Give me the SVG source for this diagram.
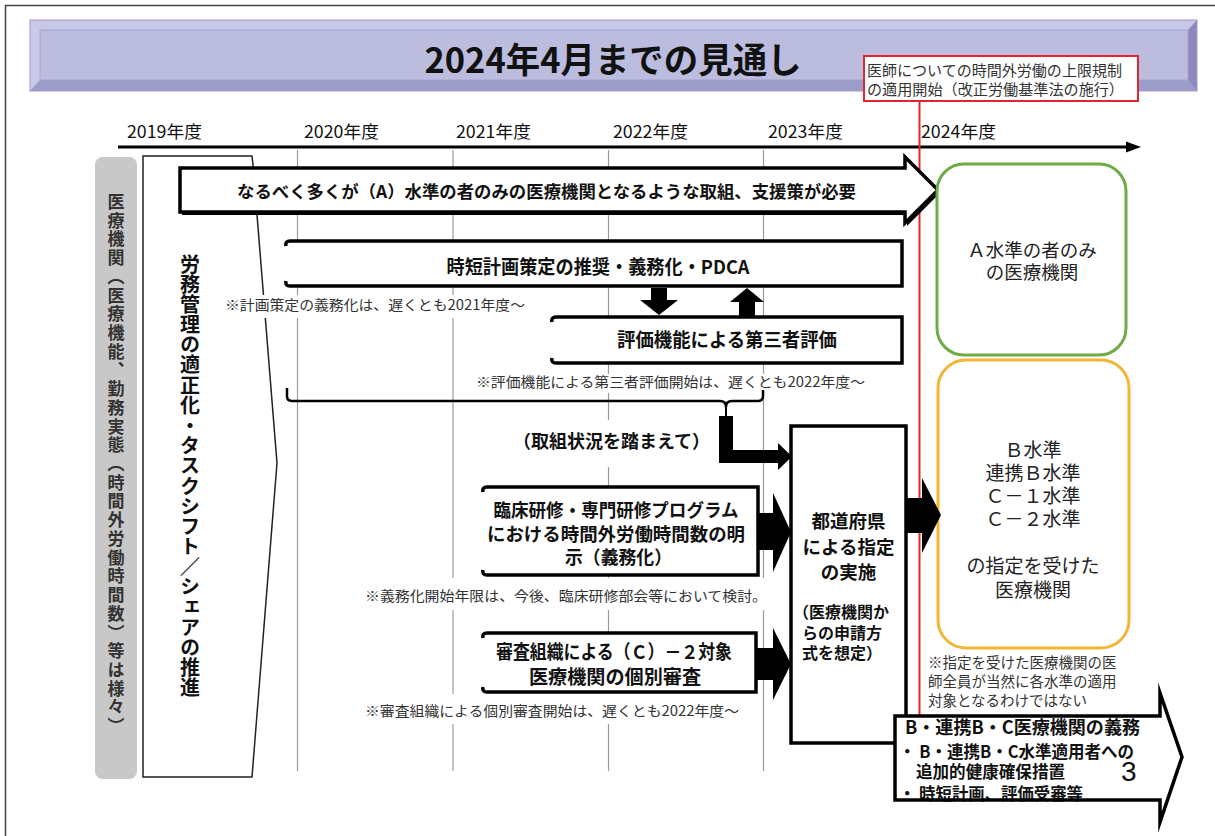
<svg xmlns="http://www.w3.org/2000/svg" width="1215" height="836" viewBox="0 0 1215 836">
<style>
text { font-family: "Noto Sans CJK JP", "Noto Sans CJK SC", sans-serif; fill: #111; }
.b { font-weight: 700; }
.note { font-size: 14px; fill: #333; }
.yr { font-size: 17px; fill: #111; }
.grid { stroke: #9a9a9a; stroke-width: 1.2; fill: none; }
.box { fill: #fff; stroke: #000; stroke-width: 3.5; stroke-linejoin: miter; stroke-miterlimit: 10; }
.open { fill: none; stroke: #000; stroke-width: 3.5; }
.bg { fill: #fff; }
.blk { fill: #000; }
.vt { writing-mode: vertical-rl; }
.red { stroke: #E3262E; }
</style>

<!-- frame -->
<path d="M5.5,836 V5.5 H1215" fill="none" stroke="#444" stroke-width="1.5"/>

<!-- title banner -->
<g id="title">
  <rect x="30" y="20" width="1167" height="71" fill="#BBBCDE"/>
  <polygon points="30,20 1197,20 1188,30 40,30" fill="#C7C7E7"/>
  <polygon points="30,20 40,30 40,80 30,91" fill="#CBCBE9"/>
  <polygon points="30,91 40,80 1188,80 1197,91" fill="#9C9CCB"/>
  <polygon points="1197,20 1188,30 1188,80 1197,91" fill="#8A8ABE"/>
  <rect x="40" y="30" width="1148" height="50" fill="#BBBCDE" stroke="#A3A3D0" stroke-width="1"/>
  <rect x="30" y="20" width="1167" height="71" fill="none" stroke="#A596CC" stroke-width="1"/>
  <text x="613" y="73" class="b" font-size="35" text-anchor="middle" textLength="377" lengthAdjust="spacingAndGlyphs">2024年4月までの見通し</text>
</g>

<!-- time axis -->
<g id="axis">
  <line x1="118" y1="147" x2="1128" y2="147" stroke="#000" stroke-width="3"/>
  <polygon points="1126,141.5 1141,147 1126,152.5" fill="#000"/>
  <text class="yr" x="127" y="138" textLength="75" lengthAdjust="spacingAndGlyphs">2019年度</text>
  <text class="yr" x="304" y="138" textLength="75" lengthAdjust="spacingAndGlyphs">2020年度</text>
  <text class="yr" x="456" y="138" textLength="75" lengthAdjust="spacingAndGlyphs">2021年度</text>
  <text class="yr" x="613" y="138" textLength="75" lengthAdjust="spacingAndGlyphs">2022年度</text>
  <text class="yr" x="768" y="138" textLength="75" lengthAdjust="spacingAndGlyphs">2023年度</text>
  <text class="yr" x="921" y="138" textLength="75" lengthAdjust="spacingAndGlyphs">2024年度</text>
</g>

<!-- grid -->
<g id="grid" class="grid">
  <line x1="297.5" y1="150" x2="297.5" y2="771"/>
  <line x1="453" y1="150" x2="453" y2="771"/>
  <line x1="608.5" y1="150" x2="608.5" y2="771"/>
  <line x1="763.5" y1="150" x2="763.5" y2="771"/>
</g>

<!-- red milestone line -->
<line x1="919.5" y1="101" x2="919.5" y2="716" class="red" stroke-width="2"/>

<!-- left gray bar -->
<g id="institutions">
  <rect x="95" y="157" width="42" height="622" rx="8" fill="#C8C8C8"/>
  <text class="vt b" x="116" y="193" font-size="17" letter-spacing="1.72" style="fill:#333">医療機関（医療機能、勤務実態（時間外労働時間数）等は様々）</text>
</g>

<!-- chevron -->
<g id="labor-management">
  <polygon points="143,156 252,156 253,165 277,463 252,777 143,777" fill="#fff" stroke="#222" stroke-width="1.5"/>
  <text class="vt b" x="190" y="254" font-size="20" letter-spacing="0.18">労務管理の適正化・タスクシフト／シェアの推進</text>
</g>

<!-- notes backgrounds and notes -->
<g id="notes">
  <rect class="bg" x="222" y="295" width="306" height="23"/>
  <text class="note" x="225" y="310" textLength="300" lengthAdjust="spacingAndGlyphs">※計画策定の義務化は、遅くとも2021年度～</text>
  <rect class="bg" x="473" y="374" width="394" height="19"/>
  <text class="note" x="476" y="387" textLength="389" lengthAdjust="spacingAndGlyphs">※評価機能による第三者評価開始は、遅くとも2022年度～</text>
  <rect class="bg" x="362" y="578" width="408" height="32"/>
  <text class="note" x="365" y="601" textLength="402" lengthAdjust="spacingAndGlyphs">※義務化開始年限は、今後、臨床研修部会等において検討。</text>
  <rect class="bg" x="362" y="694" width="380" height="30"/>
  <text class="note" x="365" y="716" textLength="374" lengthAdjust="spacingAndGlyphs">※審査組織による個別審査開始は、遅くとも2022年度～</text>
  <rect class="bg" x="515" y="420" width="194" height="47"/>
  <text class="b" x="611.5" y="447.5" font-size="18" text-anchor="middle">（取組状況を踏まえて）</text>
</g>

<!-- top arrow -->
<g id="a-level-support">
  <polygon points="182,171 907,171 907,160 940,193 907,226 907,215 182,215" fill="#000"/>
  <polygon points="180,168 905,168 905,157 938,190 905,223 905,212 180,212" class="box" stroke-width="2.8"/>
  <text class="b" x="546.5" y="198" font-size="17" text-anchor="middle" textLength="619" lengthAdjust="spacingAndGlyphs">なるべく多くが（A）水準の者のみの医療機関となるような取組、支援策が必要</text>
</g>

<!-- 時短計画 -->
<g id="time-reduction-plan">
  <rect class="bg" x="285" y="241" width="617" height="45"/>
  <path class="open" d="M286,246 Q285,241 290,241 H902 V286 H290 Q285,286 286,281"/>
  <text class="b" x="598" y="273.5" font-size="19" text-anchor="middle" textLength="303" lengthAdjust="spacingAndGlyphs">時短計画策定の推奨・義務化・PDCA</text>
</g>

<!-- 評価 -->
<g id="third-party-evaluation">
  <rect class="bg" x="551" y="317" width="351" height="46"/>
  <path class="open" d="M552,322 Q551,317 556,317 H902 V363 H556 Q551,363 552,358"/>
  <text class="b" x="727" y="346.5" font-size="19" text-anchor="middle" textLength="220" lengthAdjust="spacingAndGlyphs">評価機能による第三者評価</text>
</g>

<!-- 臨床研修 -->
<g id="training-program">
  <rect class="bg" x="482" y="487" width="276" height="88"/>
  <path class="open" d="M483,492 Q482,487 487,487 H758 V575 H487 Q482,575 483,570"/>
  <text class="b" x="616" y="517" font-size="18.5" text-anchor="middle" textLength="245" lengthAdjust="spacingAndGlyphs">臨床研修・専門研修プログラム</text>
  <text class="b" x="616" y="540.5" font-size="18.5" text-anchor="middle" textLength="258" lengthAdjust="spacingAndGlyphs">における時間外労働時間数の明</text>
  <text class="b" x="565" y="564" font-size="18.5" textLength="107" lengthAdjust="spacingAndGlyphs">示（義務化）</text>
</g>

<!-- 審査組織 -->
<g id="review-organization">
  <rect class="bg" x="482" y="633" width="274" height="59"/>
  <path class="open" d="M483,638 Q482,633 487,633 H756 V692 H487 Q482,692 483,687"/>
  <text class="b" x="614" y="658.5" font-size="19" text-anchor="middle" textLength="236" lengthAdjust="spacingAndGlyphs">審査組織による（Ｃ）－２対象</text>
  <text class="b" x="615" y="683.5" font-size="19" text-anchor="middle" textLength="172" lengthAdjust="spacingAndGlyphs">医療機関の個別審査</text>
</g>

<!-- 都道府県 -->
<g id="prefecture-designation">
  <rect class="box" x="791" y="426" width="115" height="317"/>
  <text class="b" x="848.5" y="528" font-size="18.5" text-anchor="middle">都道府県</text>
  <text class="b" x="848.5" y="553.5" font-size="18.5" text-anchor="middle">による指定</text>
  <text class="b" x="848.5" y="578.5" font-size="18.5" text-anchor="middle">の実施</text>
  <text class="b" x="793" y="617.5" font-size="16">（医療機関か</text>
  <text class="b" x="802" y="638.5" font-size="16">らの申請方</text>
  <text class="b" x="802" y="659" font-size="16">式を想定）</text>
</g>

<!-- green box -->
<g id="a-level-institutions">
  <rect x="937" y="164" width="189" height="191" rx="27" fill="#fff" stroke="#6FAB46" stroke-width="3"/>
  <text x="1032" y="256.5" font-size="18.5" text-anchor="middle" style="fill:#222">Ａ水準の者のみ</text>
  <text x="1032" y="278.5" font-size="18.5" text-anchor="middle" style="fill:#222">の医療機関</text>
</g>

<!-- orange box -->
<g id="designated-institutions">
  <rect x="938" y="360" width="191" height="288" rx="28" fill="#fff" stroke="#F4B534" stroke-width="3"/>
  <text x="1033" y="457" font-size="19" text-anchor="middle" style="fill:#222">Ｂ水準</text>
  <text x="1033" y="480" font-size="19" text-anchor="middle" style="fill:#222">連携Ｂ水準</text>
  <text x="1033" y="503" font-size="19" text-anchor="middle" style="fill:#222">Ｃ－１水準</text>
  <text x="1033" y="526" font-size="19" text-anchor="middle" style="fill:#222">Ｃ－２水準</text>
  <text x="1033" y="573" font-size="19" text-anchor="middle" style="fill:#222">の指定を受けた</text>
  <text x="1033" y="597" font-size="19" text-anchor="middle" style="fill:#222">医療機関</text>
</g>

<g id="designation-note">
  <text x="928" y="668" font-size="14.5" style="fill:#333">※指定を受けた医療機関の医</text>
  <text x="928" y="687" font-size="14.5" style="fill:#333">師全員が当然に各水準の適用</text>
  <text x="928" y="706" font-size="14.5" style="fill:#333">対象となるわけではない</text>
</g>

<!-- red label box -->
<g id="milestone-label">
  <rect x="864" y="56" width="274" height="45" fill="#fff" class="red" stroke-width="2"/>
  <text x="867" y="76" font-size="15" textLength="255" lengthAdjust="spacingAndGlyphs" style="fill:#333">医師についての時間外労働の上限規制</text>
  <text x="867" y="95" font-size="15" textLength="257" lengthAdjust="spacingAndGlyphs" style="fill:#333">の適用開始（改正労働基準法の施行）</text>
</g>

<!-- connectors -->
<g id="connectors">
  <polygon class="blk" points="651,288 667,288 667,300 678,300 659,315 640,300 651,300"/>
  <polygon class="blk" points="747,288 764,302 755,302 755,316 739,316 739,302 730,302"/>
  <path d="M287,388 V396 Q287,401 292,401 H720 Q726,401 726,407 Q726,401 732,401 H758 Q763,401 763,396 V390" fill="none" stroke="#000" stroke-width="2.5"/>
  <line x1="726" y1="405" x2="726" y2="417" stroke="#000" stroke-width="2"/>
  <polygon class="blk" points="719,416 733,416 733,450 778,450 778,443 792,456.5 778,470 778,463 719,463"/>
  <polygon class="blk" points="758,513 773,513 773,493 791,532 773,572 773,550 758,550"/>
  <polygon class="blk" points="756,648 773,648 773,628 791,664 773,700 773,680 756,680"/>
  <polygon class="blk" points="906,498 922,498 922,478 941,515 922,553 922,533 906,533"/>
</g>

<!-- B / C obligations arrow -->
<g id="bc-obligations">
  <polygon points="895,716 1160,716 1160,693 1182,757 1160,822 1160,800 895,800" fill="#fff"/>
  <text class="b" x="905" y="734" font-size="18" textLength="235" lengthAdjust="spacingAndGlyphs">B・連携B・C医療機関の義務</text>
  <text class="b" x="899" y="758" font-size="17" textLength="235" lengthAdjust="spacingAndGlyphs">・ B・連携B・C水準適用者への</text>
  <text class="b" x="916" y="778" font-size="16.5" textLength="149" lengthAdjust="spacingAndGlyphs">追加的健康確保措置</text>
  <text class="b" x="899" y="800" font-size="16.5" textLength="184" lengthAdjust="spacingAndGlyphs">・ 時短計画、評価受審等</text>
  <polygon points="895,716 1160,716 1160,693 1182,757 1160,822 1160,800 895,800" fill="none" stroke="#000" stroke-width="3.5" stroke-miterlimit="10"/>
  <text x="1121" y="781" font-size="28" style="font-family:'Liberation Sans', Arial, sans-serif; fill:#111">3</text>
</g>
</svg>
